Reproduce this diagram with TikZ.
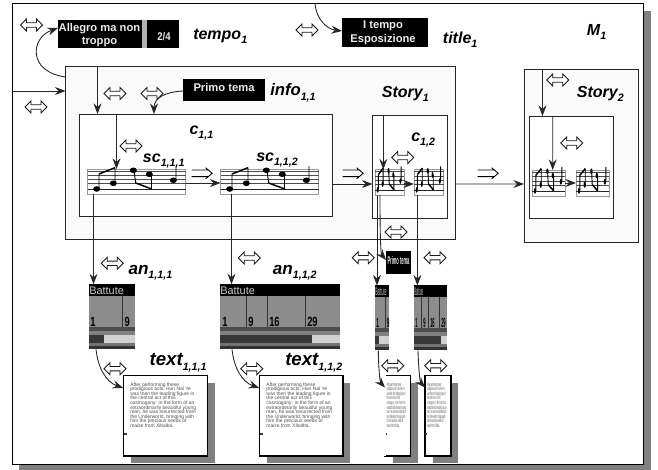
\documentclass[tikz,border=0pt]{standalone}
\usepackage{graphicx}
\usepackage{fontspec}
\setmainfont{Liberation Sans}
\usetikzlibrary{arrows.meta}
\definecolor{shadowgray}{gray}{0.5}
\definecolor{wirecol}{gray}{0.15}
\tikzset{
  pg/.style={draw=black,line width=0.7pt,fill=white,inner sep=0pt,outer sep=0pt},
  storybox/.style={draw=black!85,line width=0.7pt,fill=black!2,inner sep=0pt,outer sep=0pt},
  clipbox/.style={draw=black!85,line width=0.7pt,fill=white,inner sep=0pt,outer sep=0pt},
  blackbox/.style={fill=black,draw=none,inner sep=0pt,outer sep=0pt},
  stavebox/.style={draw=black!40,line width=0.6pt,fill=white,inner sep=0pt,outer sep=0pt},
  docbox/.style={draw=black,line width=0.8pt,fill=white,inner sep=0pt,outer sep=0pt},
  wtext/.style={text=black!8,font=\fontsize{8.4}{9}\selectfont\bfseries,inner sep=0pt},
  lab/.style={anchor=base west,inner sep=0pt,text=black},
  arr/.style={draw=wirecol,line width=0.65pt,-{Stealth[length=8pt,width=6pt,inset=2.8pt]}},
  dbl/.pic={\draw[draw=black!90,fill=white,line width=0.65pt,line join=miter]
     (-11,0)--(-5,-6)--(-5,-2.2)--(5,-2.2)--(5,-6)--(11,0)--(5,6)--(5,2.2)--(-5,2.2)--(-5,6)--cycle;},
  imp/.pic={\draw[draw=black,line width=0.65pt]
     (-10,-3.3)--(7,-3.3) (-10,3.3)--(7,3.3) (4,-5.5)--(10.5,0)--(4,5.5);}
}
\newcommand{\cornerbox}[6]{\node[#1,minimum width={(#5-#3)*0.75pt},minimum height={(#6-#4)*0.75pt}] (#2) at ({(#3+#5)/2},{(#4+#6)/2}) {};}
\newcommand{\pN}[2]{([xshift=#2*0.75pt]#1.north west)}
\newcommand{\pS}[2]{([xshift=#2*0.75pt]#1.south west)}
\newcommand{\pW}[2]{([yshift=-#2*0.75pt]#1.north west)}
\newcommand{\pE}[2]{([yshift=-#2*0.75pt]#1.north east)}
\newcommand{\lab}[7]{\node[lab] (#1) at (#2,#3) {\fontsize{#6}{#6}\selectfont\bfseries\itshape #4\raisebox{-0.25em}{\fontsize{#7}{#7}\selectfont #5}};}
% staff of music
\newcommand{\stave}[5]{%
  \cornerbox{stavebox}{#1}{#2}{#3}{#4}{#5}
  \pgfmathsetmacro{\stw}{(#4-#2)/98*0.75}\pgfmathsetmacro{\sth}{(#5-#3)/25*0.75}
  \begin{scope}[shift={(#2,#3)},x=\stw pt,y=-\sth pt]
    \foreach \ly in {2.2,6.2,10.7,14.7}{\draw[black!70,line width=0.45pt] (0,\ly)--(98,\ly);}
    \draw[black!85,line width=0.8pt] (0,20.7)--(98,20.7);
    \fill[black] (9.2,20) circle[x radius=3.5,y radius=2.8] (25.8,14.3) circle[x radius=3.5,y radius=2.8]
      (45.8,1.3) circle[x radius=3.5,y radius=2.8] (61.8,5.3) circle[x radius=3.5,y radius=2.8] (85.8,11.3) circle[x radius=3.5,y radius=2.8];
    \draw[black,line width=0.7pt] (11.5,19)--(11.5,5) (27.5,14)--(27.5,-1.3) (46.5,2)--(48.2,14) (64,5.5)--(64,20) (88.5,11)--(88.5,-3);
    \draw[black,line width=1.1pt] (11.5,5)--(27.5,-1.3) (48.2,14)--(64.2,20);
  \end{scope}}
% timeline picture: name,x1,y0,x2,barend,textscale,numscale,seplist,numlist
\newcommand{\battute}[9]{%
  \cornerbox{blackbox}{#1}{#2}{#3}{#4}{#3+65}
  \fill[black!45] (#2,#3+11.7) rectangle (#4,#3+43);
  \fill[black!70] (#2,#3+43) rectangle (#4,#3+47);
  \fill[black!50] (#2,#3+47) rectangle (#4,#3+51);
  \fill[black!18] (#2,#3+51) rectangle (#4,#3+59);
  \fill[black!78] (#2,#3+51) rectangle (#5,#3+59);
  \fill[black!55] (#2,#3+59) rectangle (#4,#3+62);
  \fill[black!80] (#2,#3+62) rectangle (#4,#3+65);
  \node[anchor=base west,inner sep=0pt,text=black!20] (#1h) at (#2,#3+10) {\scalebox{#6}[1]{\fontsize{8.2}{9}\selectfont Battute}};
  \foreach \sx in {#8}{\draw[black!80,line width=0.75pt] (\sx,#3+12)--(\sx,#3+43);}
  \foreach \nx/\nt in {#9}{\node[anchor=base west,inner sep=0pt,text=black] at (\nx,#3+42) {\scalebox{#7}[1]{\fontsize{10}{10}\selectfont\bfseries \nt}};}
}
\newcommand{\bodytxt}{After performing these\\prodigious acts, Hun Nal Ye\\was then the leading figure in\\the central act of this\\cosmogony: in the form of an\\extraordinarily beautiful young\\man, he was resurrected from\\the Underworld, bringing with\\him the precious seeds of\\maize from Xibalba.}
\newcommand{\para}[1]{\scalebox{#1}[1]{\parbox[t]{70pt}{\lineskiplimit=-10pt\fontsize{3.7}{3.4}\selectfont\raggedright\bodytxt}}}
\newcommand{\docu}[6]{% name,x1,x2,textx,scale,markx
  \fill[shadowgray] (#2+7.7,383) rectangle (#3+7.2,463);
  \cornerbox{docbox}{#1}{#2}{375.5}{#3}{456}
  \node[anchor=north west,inner sep=0pt,text=black!70] (#1t) at (#4,382.5) {\para{#5}};
  \fill[black!75] (#6-1.2,432.8) rectangle (#6+1.2,434.6);
}
\begin{document}
\begin{tikzpicture}[x=0.75pt,y=-0.75pt]
\useasboundingbox (0,0) rectangle (658,470);
\fill[shadowgray] (19,11) rectangle (651,470);
\cornerbox{pg}{frame}{12}{3.5}{643}{464}
\cornerbox{storybox}{story1}{65.5}{66.5}{455.7}{239}
\cornerbox{storybox}{story2}{524}{69.5}{638}{242.7}
\cornerbox{clipbox}{c11}{79.5}{114}{332}{216.5}
\cornerbox{clipbox}{c12}{372.5}{115}{447}{218}
\cornerbox{clipbox}{c2}{529.5}{116}{613.7}{218.5}
% tempo / title / info images
\cornerbox{blackbox}{tempoimg}{58}{20}{179}{48}
\fill[black!30] (141.5,20) rectangle (146.5,48);
\node[wtext] (t1) at (99.5,28.3) {Allegro ma non};
\node[wtext] (t2) at (99.5,42) {troppo};
\node[wtext] (t3) at (164,36.7) {\scalebox{0.85}[1]{2/4}};
\cornerbox{blackbox}{titleimg}{342}{18}{428}{47}
\node[wtext] (t4) at (383,26) {I tempo};
\node[wtext] (t5) at (383,39.3) {Esposizione};
\cornerbox{blackbox}{primo}{183}{79}{265}{101}
\node[wtext] (t6) at (224,88) {Primo tema};
\cornerbox{blackbox}{primosm}{386}{251}{411}{273.7}
\node[wtext] (t7) at (398.5,260) {\scalebox{0.36}[1]{Primo tema}};
% staves
\stave{sc111}{87.5}{169}{185.5}{194}
\stave{sc112}{220.5}{169}{318.5}{194}
\stave{sc121}{375}{169.5}{404}{195}
\stave{sc122}{414}{169.5}{443.5}{195}
\stave{sc211}{532}{170}{565}{196}
\stave{sc212}{576}{170}{609}{196}
% timelines
\battute{an111}{89}{284.3}{135}{104}{1}{0.7}{122.7}{90/1,124.3/9}
\battute{an112}{220}{284.3}{340}{311.7}{1}{0.7}{246.7,267.3,305.3}{222/1,248/9,269/16,307/29}
\battute{an121}{375}{285.5}{389}{379}{0.33}{0.35}{385.8}{376/1,386.7/9}
\battute{an122}{414}{285.5}{446.8}{440.7}{0.26}{0.3}{421.7,428.3,439}{415/1,423/9,430/16,441/29}
% documents
\docu{text111}{123.3}{207.3}{130}{1}{125.3}
\docu{text112}{259.3}{343}{266.2}{1}{261.5}
\docu{text121}{385}{410.3}{386.7}{0.29}{385.9}
\docu{text122}{425}{451}{427}{0.29}{426}
\draw[white,line width=0.9pt] (text121.north west)--(text121.south west);
% connectors
\draw[arr] \pN{frame}{303} .. controls (316,18) and (326,29) .. \pW{titleimg}{13};
\draw[arr] \pW{story1}{10.5} .. controls (28,72) and (30,38) .. \pW{tempoimg}{8};
\draw[arr] \pW{frame}{87.5} -- \pW{story1}{24.5};
\draw[arr] \pN{story1}{32} -- \pN{c11}{18};
\draw[arr] \pW{primo}{12} .. controls (165,92) and (154,98) .. \pN{c11}{74.5};
\draw[arr] \pN{c11}{37} -- \pN{sc111}{29};
\draw[arr] \pE{sc111}{14} -- \pW{sc112}{14};
\draw[arr] \pS{sc111}{6} -- \pN{an111}{4.5};
\draw[arr] \pS{sc112}{11} -- \pN{an112}{11.5};
\draw[arr] \pS{an111}{7} .. controls (98,368) and (106,382) .. \pW{text111}{12.5};
\draw[arr] \pS{an112}{12} .. controls (234,368) and (242,382) .. \pW{text112}{12.5};
\draw[arr] \pE{c11}{70} -- \pW{c12}{69};
\draw[arr,line width=0.9pt] \pE{sc121}{14.5} -- \pW{sc122}{14.5};
\draw[arr] \pN{c12}{10.8} -- \pN{sc121}{8.3};
\draw[arr] \pE{story1}{117.5} -- \pW{story2}{114.5};
\draw[arr] \pN{story2}{18.5} -- \pN{c2}{13};
\draw[arr] \pN{c2}{23.2} -- \pN{sc211}{20.7};
\draw[arr,line width=0.5pt] \pE{sc211}{13} -- \pW{sc212}{13};
\draw[arr] \pS{sc121}{2} -- \pN{an121}{2};
\draw[arr] \pS{sc121}{5} .. controls (380,245) and (381,254) .. \pW{primosm}{9};
\draw[arr] \pS{sc122}{3.4} -- \pN{an122}{3.4};
\draw[arr] \pS{an121}{3.3} .. controls (378.5,368) and (380,382) .. \pW{text121}{12};
\draw[arr] \pS{an122}{4} .. controls (418.5,368) and (420,382) .. \pW{text122}{12};
% double arrows
\foreach \ax/\ay in {31.5/25,307/30,36/107,115/93.5,152/93.5,131/146,557.7/80,571.7/143,402.7/157.5,396/232,112.3/263.3,249.3/258,115/368.7,251.7/368.7,363.3/257.7,435/257.7,392.7/365.7,435.7/365.7}
  {\pic at (\ax,\ay) {dbl};}
\foreach \ax in {201.7,352.7,487.7}{\pic at (\ax,173.3) {imp};}
% labels
\lab{ltempo}{193}{39.5}{tempo}{1}{12}{8}
\lab{ltitle}{442.7}{44}{title}{1}{12}{8}
\lab{lm}{586.7}{35.7}{M}{1}{12}{8}
\lab{linfo}{270}{96}{info}{1,1}{12.5}{8}
\lab{lstory1}{381.7}{97.3}{Story}{1}{12}{8}
\lab{lstory2}{576.7}{98}{Story}{2}{12}{8}
\lab{lc11}{189.3}{135}{c}{1,1}{12}{8}
\lab{lc12}{411}{142}{c}{1,2}{12}{8}
\lab{lsc111}{142.7}{163}{sc}{1,1,1}{12}{8}
\lab{lsc112}{256}{162}{sc}{1,1,2}{12}{8}
\lab{lan111}{128.3}{274.3}{an}{1,1,1}{12.8}{8}
\lab{lan112}{272.7}{274.3}{an}{1,1,2}{12.8}{8}
\lab{ltext111}{149.3}{365.7}{text}{1,1,1}{14}{8}
\lab{ltext112}{285}{365.7}{text}{1,1,2}{14}{8}
\end{tikzpicture}
\end{document}
